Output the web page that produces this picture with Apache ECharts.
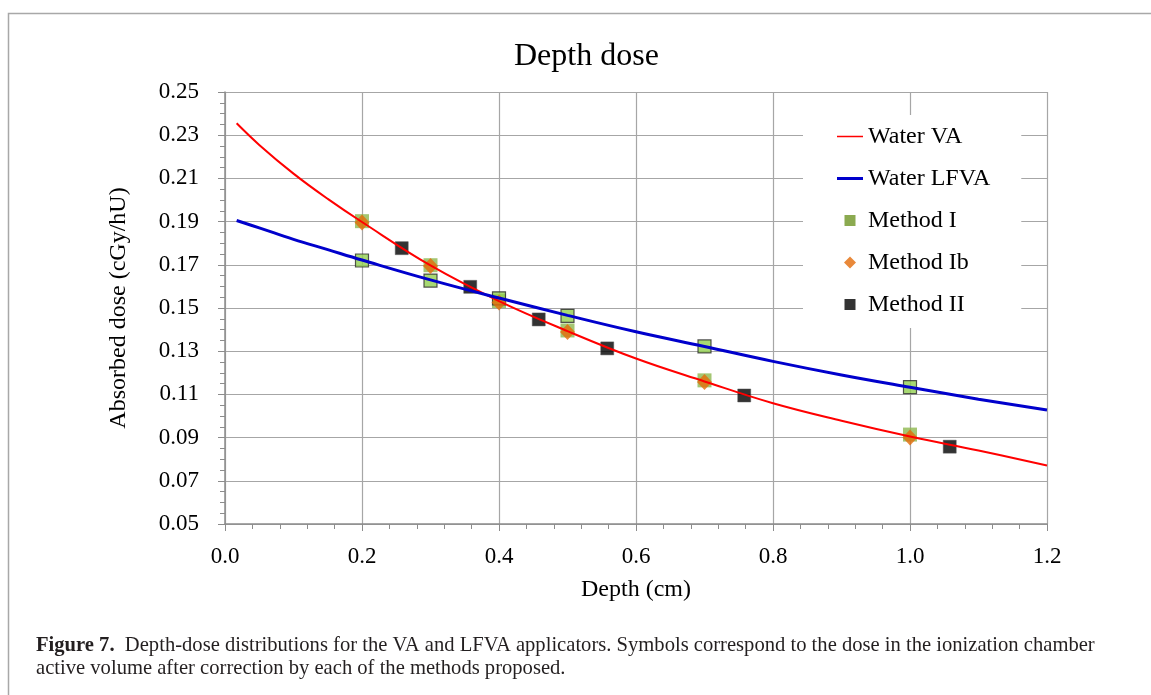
<!DOCTYPE html>
<html lang="en">
<head>
    <meta charset="UTF-8">
    <title>Depth dose</title>
    <script src="https://cdn.jsdelivr.net/npm/echarts@6/dist/echarts.min.js"></script>
    <style>
        *{
            margin: 0;
            padding: 0;
        }
        body{
            background-color: #fff;
            overflow: hidden;
        }
        #main{
            width: 1151px;
            height: 695px;
        }
    </style>
</head>
<body>
<div id="main"></div>
<script>
    // depth (cm) for the two calculated curves
    var curveDepth = [0.017, 0.05, 0.1, 0.15, 0.2, 0.3, 0.4, 0.5, 0.6, 0.7, 0.8, 0.9, 1.0, 1.1, 1.2];
    var waterVA    = [0.2355, 0.2255, 0.2122, 0.2005, 0.1898, 0.1697, 0.1532, 0.1393, 0.1266, 0.1160, 0.1059, 0.0978, 0.0905, 0.0840, 0.0771];
    var waterLFVA  = [0.1905, 0.1871, 0.1818, 0.1770, 0.1722, 0.1630, 0.1546, 0.1466, 0.1390, 0.1322, 0.1253, 0.1190, 0.1133, 0.1078, 0.1028];

    // measured points
    var methodDepth   = [0.2, 0.3, 0.4, 0.5, 0.7, 1.0];
    var methodI_VA    = [0.1902, 0.1698, 0.1532, 0.1396, 0.1165, 0.0914];
    var methodI_LFVA  = [0.1720, 0.1627, 0.1545, 0.1464, 0.1322, 0.1134];
    var methodIb      = [0.1896, 0.1695, 0.1525, 0.1389, 0.1157, 0.0900];
    var methodIIDepth = [0.258, 0.358, 0.458, 0.558, 0.758, 1.058];
    var methodII      = [0.1777, 0.1598, 0.1447, 0.1313, 0.1095, 0.0858];

    function pairs(xs, ys) {
        var out = [];
        for (var i = 0; i < xs.length; i++) {
            out.push([xs[i], ys[i]]);
        }
        return out;
    }

    var serif = '"Liberation Serif", "Times New Roman", serif';
    var gridColor = '#A6A6A6';

    // legend icons, all drawn in a 26x12 box (tiny corner stubs keep the box size)
    var box = 'M0,0 L0.01,0 Z M26,12 L25.99,12 Z ';
    var iconThin   = 'path://' + box + 'M0,5.2 L26,5.2 L26,6.8 L0,6.8 Z';
    var iconThick  = 'path://' + box + 'M0,4.6 L26,4.6 L26,7.4 L0,7.4 Z';
    var iconSquare = 'path://' + box + 'M7.5,0.5 L18.5,0.5 L18.5,11.5 L7.5,11.5 Z';
    var iconDiam   = 'path://' + box + 'M13,0 L19,6 L13,12 L7,6 Z';

    var myChart = echarts.init(document.getElementById('main'));

    var option = {
        backgroundColor: '#fff',
        animation: false,
        title: {
            text: 'Depth dose',
            left: 509,
            top: 36,
            textStyle: {
                fontFamily: serif,
                fontSize: 32,
                fontWeight: 'normal',
                color: '#000'
            }
        },
        grid: {
            left: 225,
            right: 104,
            top: 92,
            bottom: 171
        },
        legend: {
            left: 803,
            top: 115,
            orient: 'vertical',
            selectedMode: false,
            backgroundColor: '#fff',
            padding: [9, 31, 11, 34],
            itemWidth: 26,
            itemHeight: 12,
            itemGap: 17,
            textStyle: {
                fontFamily: serif,
                fontSize: 24,
                lineHeight: 25,
                color: '#000'
            },
            data: [
                { name: 'Water VA', icon: iconThin },
                { name: 'Water LFVA', icon: iconThick },
                { name: 'Method I', icon: iconSquare, itemStyle: { color: '#8BAA50', opacity: 1, borderWidth: 0 } },
                { name: 'Method Ib', icon: iconDiam },
                { name: 'Method II', icon: iconSquare, itemStyle: { color: '#000', borderWidth: 0 } }
            ]
        },
        graphic: [
            {
                type: 'rect',
                silent: true,
                z: -10,
                shape: { x: 8.5, y: 13.5, width: 1160, height: 700 },
                style: { fill: 'none', stroke: '#A8A8A8', lineWidth: 1.5 }
            },
            {
                type: 'text',
                left: 36,
                top: 634,
                style: {
                    text: '{b|Figure 7.}  Depth-dose distributions for the VA and LFVA applicators. Symbols correspond to the dose in the ionization chamber\nactive volume after correction by each of the methods proposed.',
                    font: '20.6px ' + serif,
                    fill: '#231F20',
                    lineHeight: 23,
                    rich: {
                        b: { fontWeight: 'bold', fontSize: 20.6, fontFamily: serif }
                    }
                }
            }
        ],
        xAxis: {
            type: 'value',
            min: 0,
            max: 1.2,
            interval: 0.2,
            name: 'Depth (cm)',
            nameLocation: 'middle',
            nameGap: 54,
            nameTextStyle: { fontFamily: serif, fontSize: 24, color: '#000' },
            axisLine: { show: true, lineStyle: { color: '#8C8C8C', width: 1.5 } },
            axisTick: { show: true, length: 7, lineStyle: { color: '#8C8C8C' } },
            minorTick: { show: true, splitNumber: 5, length: 5, lineStyle: { color: '#8C8C8C' } },
            splitLine: { show: true, lineStyle: { color: gridColor, width: 1.2 } },
            axisLabel: {
                margin: 21,
                fontFamily: serif,
                fontSize: 23,
                color: '#000',
                formatter: function (v) { return v.toFixed(1); }
            }
        },
        yAxis: {
            type: 'value',
            min: 0.05,
            max: 0.25,
            interval: 0.02,
            name: 'Absorbed dose (cGy/hU)',
            nameLocation: 'middle',
            nameGap: 94,
            nameTextStyle: { fontFamily: serif, fontSize: 24, color: '#000' },
            axisLine: { show: true, lineStyle: { color: '#8C8C8C', width: 1.5 } },
            axisTick: { show: true, length: 7, lineStyle: { color: '#8C8C8C' } },
            minorTick: { show: true, splitNumber: 4, length: 5, lineStyle: { color: '#8C8C8C' } },
            splitLine: { show: true, lineStyle: { color: gridColor, width: 1.2 } },
            axisLabel: {
                margin: 26,
                fontFamily: serif,
                fontSize: 23,
                color: '#000',
                formatter: function (v) { return v.toFixed(2); }
            }
        },
        series: [
            {
                name: 'Water VA',
                type: 'line',
                smooth: 0.4,
                symbol: 'none',
                lineStyle: { color: '#FF0000', width: 2 },
                itemStyle: { color: '#FF0000' },
                data: pairs(curveDepth, waterVA)
            },
            {
                name: 'Water LFVA',
                type: 'line',
                smooth: 0.4,
                symbol: 'none',
                lineStyle: { color: '#0000CC', width: 3 },
                itemStyle: { color: '#0000CC' },
                data: pairs(curveDepth, waterLFVA)
            },
            {
                name: 'Method I',
                type: 'scatter',
                symbol: 'rect',
                symbolSize: 14,
                itemStyle: { color: '#8DB84F', opacity: 0.8 },
                data: pairs(methodDepth, methodI_VA)
            },
            {
                name: 'Method I',
                type: 'scatter',
                symbol: 'rect',
                symbolSize: 13,
                itemStyle: { color: '#92D050', borderColor: '#2b2b2b', borderWidth: 1.2 },
                data: pairs(methodDepth, methodI_LFVA)
            },
            {
                name: 'Method Ib',
                type: 'scatter',
                symbol: 'diamond',
                symbolSize: [15, 16],
                itemStyle: { color: '#E36C09' },
                data: pairs(methodDepth, methodIb)
            },
            {
                name: 'Method II',
                type: 'scatter',
                symbol: 'rect',
                symbolSize: 13,
                itemStyle: { color: '#000', borderColor: '#555', borderWidth: 0.6 },
                data: pairs(methodIIDepth, methodII)
            }
        ]
    };

    myChart.setOption(option);
    window.onresize = myChart.resize;
</script>
</body>
</html>
